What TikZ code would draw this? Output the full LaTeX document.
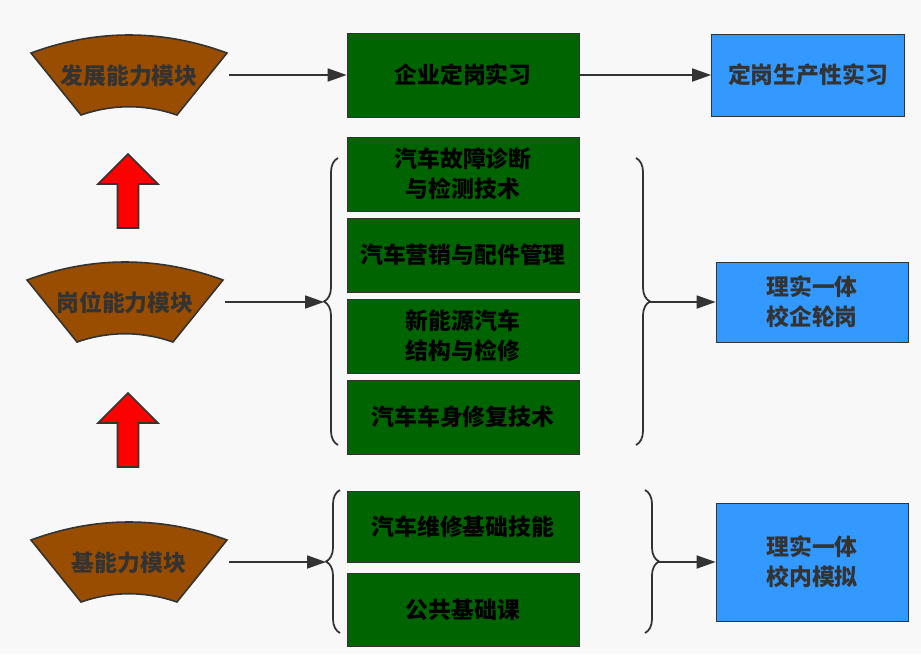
\documentclass[tikz,border=0pt]{standalone}
\usepackage{fontspec}
\newfontfamily\cjk{Noto Sans CJK SC}
\usepackage{xcolor}
\usepackage{tikz}
\usetikzlibrary{positioning, shapes.geometric}
\usetikzlibrary{calc, arrows.meta, decorations.pathreplacing}
\definecolor{bgcol}{RGB}{248,248,249}
\definecolor{linecol}{RGB}{51,51,51}
\definecolor{fanbrown}{RGB}{153,77,0}
\definecolor{boxgreen}{RGB}{0,100,0}
\definecolor{boxblue}{RGB}{51,153,255}
\definecolor{upred}{RGB}{255,0,0}
\tikzstyle{module} = [minimum width=4cm, text centered, text height=1.2em, text depth=0.1em, text=linecol]
\tikzstyle{fan} = [fill=fanbrown, draw=linecol, line width=0.9pt]
\tikzstyle{course} = [rectangle, minimum width=4.64cm, minimum height=1.48cm, inner sep=0pt, text centered, align=center, fill=boxgreen, draw=linecol, text=black]
\tikzstyle{practice} = [rectangle, minimum width=3.84cm, inner sep=0pt, text centered, align=center, fill=boxblue, draw=linecol, text=linecol]
\tikzstyle{arrow} = [line width=1pt, draw=linecol, -{Triangle[length=3.8mm,width=2.6mm]}]
\tikzstyle{brace} = [line width=1pt, draw=linecol, decorate, decoration={brace, amplitude=0.28cm}]
\tikzstyle{uparrow} = [fill=upred, draw=linecol, line width=0.9pt]
\tikzstyle{every node}=[font=\cjk\bfseries\fontsize{13}{17}\selectfont]
\newcommand{\fanshape}[1]{\draw[fan, shift={(#1)}] (-98,-22) .. controls (-33,-46) and (33,-46) .. (98,-22) -- (48,40) .. controls (16,29) and (-16,29) .. (-48,40) -- cycle;}
\newcommand{\redarrow}[1]{\draw[uparrow, shift={(#1)}] (0,0) -- (30,30) -- (10.5,30) -- (10.5,74) -- (-10.5,74) -- (-10.5,30) -- (-30,30) -- cycle;}

\begin{document}
\begin{tikzpicture}[x=0.02cm, y=-0.02cm, node distance=1.62cm]
		\fill[bgcol] (0,0) rectangle (921,654);
		\coordinate (f1) at (129,75);
		\coordinate (f2) at (125,302);
		\coordinate (f3) at (129,562);
		\fanshape{f1}
		\fanshape{f2}
		\fanshape{f3}
		\node (dev) [module] at (f1) {发展能力模块};
		\node (post) [module] at (f2) {岗位能力模块};
		\node (base) [module] at (f3) {基能力模块};
		\coordinate (up1) at (128,154);
		\coordinate (up2) at (128,393);
		\redarrow{up1}
		\redarrow{up2}
		\node (job) [course, minimum height=1.68cm] at (463,75) {企业定岗实习};
		\node (c1) [course] at (463,174) {汽车故障诊断\\与检测技术};
		\node (c2) [course, below of=c1] {汽车营销与配件管理};
		\node (c3) [course, below of=c2] {新能源汽车\\结构与检修};
		\node (c4) [course, below of=c3] {汽车车身修复技术};
		\node (c5) [course, minimum height=1.42cm] at (463,527) {汽车维修基础技能};
		\node (c6) [course, minimum height=1.46cm, below of=c5, yshift=-0.04cm] {公共基础课};
		\node (p1) [practice, minimum width=3.86cm, minimum height=1.64cm] at (808,75) {定岗生产性实习};
		\node (p2) [practice, minimum height=1.6cm] at (812,302) {理实一体\\校企轮岗};
		\node (p3) [practice, minimum height=2.36cm] at (812,562) {理实一体\\校内模拟};
		\coordinate (lb1) at (324,302);
		\coordinate (rb1) at (650,302);
		\coordinate (lb2) at (326,562);
		\coordinate (rb2) at (659,562);
		\draw [brace] (338,445) -- (338,158);
		\draw [brace] (636,158) -- (636,445);
		\draw [brace] (340,633) -- (340,490);
		\draw [brace] (645,490) -- (645,633);
		\draw [arrow](dev) -- (job);
		\draw [arrow](job) -- (p1);
		\draw [arrow](post) -- (lb1);
		\draw [arrow](rb1) -- (p2);
		\draw [arrow](base) -- (lb2);
		\draw [arrow](rb2) -- (p3);
	\end{tikzpicture}
\end{document}
